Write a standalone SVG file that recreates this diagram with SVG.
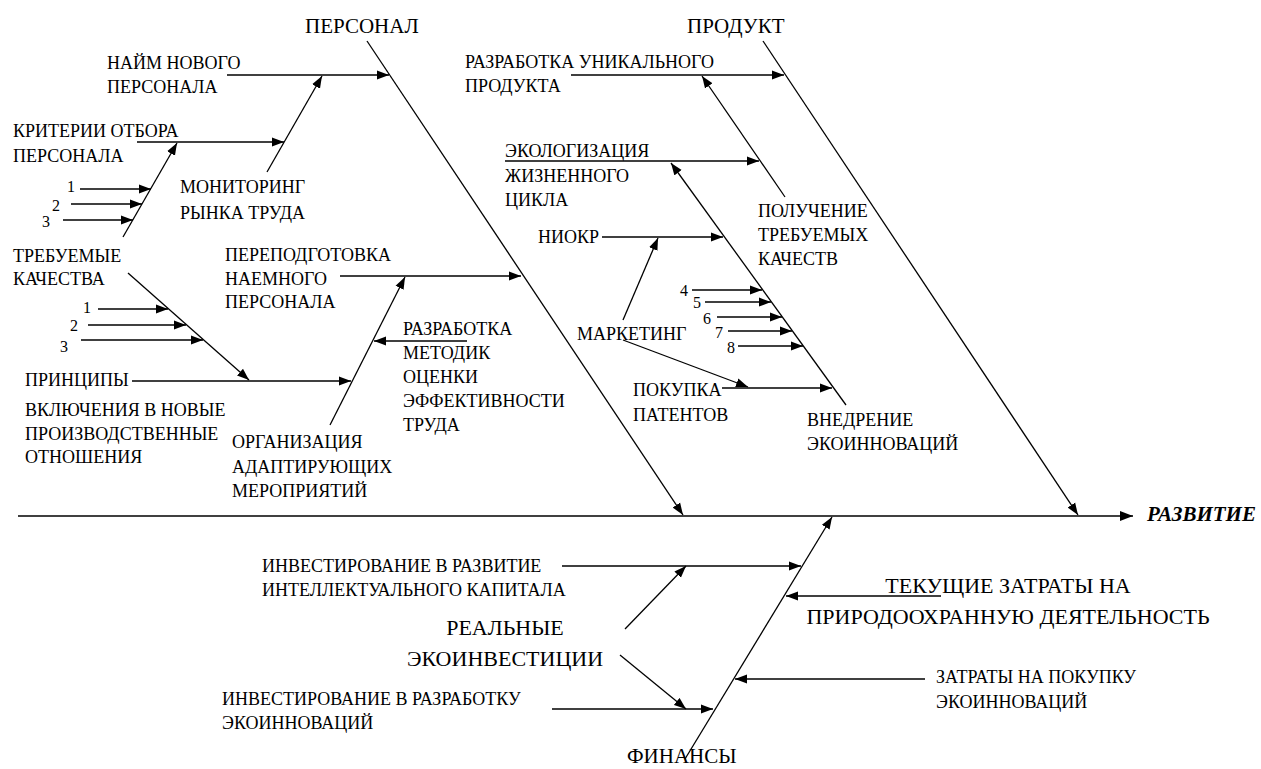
<svg xmlns="http://www.w3.org/2000/svg" width="1261" height="769" viewBox="0 0 1261 769">
<defs>
<marker id="ah" markerWidth="13" markerHeight="10" refX="12" refY="5" orient="auto" markerUnits="userSpaceOnUse"><path d="M0,0.5 L12,5 L0,9.5 z" fill="#000"/></marker>
<marker id="ahL" markerWidth="14" markerHeight="11" refX="13" refY="5.5" orient="auto" markerUnits="userSpaceOnUse"><path d="M0,0.5 L13,5.5 L0,10.5 z" fill="#000"/></marker>
</defs>
<style>
text{fill:#000;font-size:18px}
.t{font-size:21px}
.n{font-size:16px}
.b{font-size:22px}
.s{font-size:18px}
.r{font-size:21px;font-weight:bold;font-style:italic}
.c{text-anchor:middle}
line{stroke:#000;stroke-width:1.3;fill:none}
.a{marker-end:url(#ah)}
</style>
<rect width="1261" height="769" fill="#fff"/>
<g id="connectors">
<line x1="18" y1="516" x2="1133" y2="516" style="marker-end:url(#ahL)"/>
<line class="a" x1="367" y1="41" x2="683" y2="515"/>
<line class="a" x1="227" y1="75" x2="389" y2="75"/>
<line class="a" x1="267" y1="172" x2="322" y2="76"/>
<line class="a" x1="137" y1="142" x2="284" y2="142"/>
<line class="a" x1="123" y1="237" x2="177" y2="143"/>
<line class="a" x1="80" y1="189" x2="151" y2="189"/>
<line class="a" x1="71" y1="204" x2="142" y2="204"/>
<line class="a" x1="63" y1="220" x2="133" y2="220"/>
<line class="a" x1="128" y1="273" x2="249" y2="380"/>
<line class="a" x1="98" y1="309" x2="168" y2="309"/>
<line class="a" x1="88" y1="325" x2="186" y2="325"/>
<line class="a" x1="81" y1="340" x2="203" y2="340"/>
<line class="a" x1="132" y1="381" x2="351" y2="381"/>
<line class="a" x1="330" y1="425" x2="405" y2="277"/>
<line class="a" x1="340" y1="276" x2="521" y2="276"/>
<line class="a" x1="467" y1="341" x2="374" y2="341"/>
<line class="a" x1="763" y1="41" x2="1078" y2="515"/>
<line class="a" x1="571" y1="75" x2="784" y2="75"/>
<line class="a" x1="785" y1="197" x2="702" y2="76"/>
<line class="a" x1="505" y1="161" x2="759" y2="161"/>
<line class="a" x1="846" y1="405" x2="671" y2="163"/>
<line class="a" x1="602" y1="237" x2="723" y2="237"/>
<line class="a" x1="722" y1="388" x2="832" y2="388"/>
<line class="a" x1="692" y1="290" x2="762" y2="290"/>
<line class="a" x1="705" y1="302" x2="771" y2="302"/>
<line class="a" x1="717" y1="317" x2="782" y2="317"/>
<line class="a" x1="728" y1="331" x2="792" y2="331"/>
<line class="a" x1="738" y1="346" x2="803" y2="346"/>
<line class="a" x1="623" y1="320" x2="658" y2="238"/>
<line class="a" x1="623" y1="340" x2="748" y2="387"/>
<line class="a" x1="685" y1="759" x2="832" y2="517"/>
<line class="a" x1="562" y1="566" x2="801" y2="566"/>
<line class="a" x1="941" y1="596" x2="786" y2="596"/>
<line class="a" x1="925" y1="679" x2="735" y2="679"/>
<line class="a" x1="552" y1="709" x2="713" y2="709"/>
<line class="a" x1="625" y1="629" x2="686" y2="566"/>
<line class="a" x1="620" y1="655" x2="686" y2="709"/>
</g>
<g id="labels" font-family="'Liberation Serif', 'DejaVu Serif', serif">
<g id="personal"><text class="t" x="305" y="33">ПЕРСОНАЛ</text></g>
<g id="naim"><text x="107" y="69">НАЙМ НОВОГО</text><text x="107" y="93">ПЕРСОНАЛА</text></g>
<g id="kriterii"><text x="13" y="137">КРИТЕРИИ ОТБОРА</text><text x="13" y="162">ПЕРСОНАЛА</text></g>
<g id="monitoring"><text x="180" y="193">МОНИТОРИНГ</text><text x="180" y="219">РЫНКА ТРУДА</text></g>
<g id="nums1"><text class="n" x="67" y="192">1</text><text class="n" x="52" y="211">2</text><text class="n" x="42" y="227">3</text></g>
<g id="treb"><text x="13" y="262">ТРЕБУЕМЫЕ</text><text x="13" y="285">КАЧЕСТВА</text></g>
<g id="nums2"><text class="n" x="83" y="313">1</text><text class="n" x="70" y="331">2</text><text class="n" x="60" y="352">3</text></g>
<g id="principy"><text x="25" y="386">ПРИНЦИПЫ</text><text x="25" y="416">ВКЛЮЧЕНИЯ В НОВЫЕ</text><text x="25" y="440">ПРОИЗВОДСТВЕННЫЕ</text><text x="25" y="463">ОТНОШЕНИЯ</text></g>
<g id="perepodg"><text x="225" y="261">ПЕРЕПОДГОТОВКА</text><text x="225" y="285">НАЕМНОГО</text><text x="225" y="308">ПЕРСОНАЛА</text></g>
<g id="organiz"><text x="232" y="448">ОРГАНИЗАЦИЯ</text><text x="232" y="473">АДАПТИРУЮЩИХ</text><text x="232" y="497">МЕРОПРИЯТИЙ</text></g>
<g id="metodik"><text x="403" y="335">РАЗРАБОТКА</text><text x="403" y="359">МЕТОДИК</text><text x="403" y="383">ОЦЕНКИ</text><text x="403" y="407">ЭФФЕКТИВНОСТИ</text><text x="403" y="431">ТРУДА</text></g>
<g id="produkt"><text class="t" x="687" y="33">ПРОДУКТ</text></g>
<g id="unik"><text x="465" y="68">РАЗРАБОТКА УНИКАЛЬНОГО</text><text x="465" y="92">ПРОДУКТА</text></g>
<g id="ekolog"><text x="505" y="157">ЭКОЛОГИЗАЦИЯ</text><text x="505" y="182">ЖИЗНЕННОГО</text><text x="505" y="206">ЦИКЛА</text></g>
<g id="poluch"><text x="758" y="217">ПОЛУЧЕНИЕ</text><text x="758" y="241">ТРЕБУЕМЫХ</text><text x="758" y="265">КАЧЕСТВ</text></g>
<g id="niokr"><text x="538" y="243">НИОКР</text></g>
<g id="marketing"><text x="577" y="340">МАРКЕТИНГ</text></g>
<g id="pokupka"><text x="633" y="396">ПОКУПКА</text><text x="633" y="421">ПАТЕНТОВ</text></g>
<g id="nums3"><text class="n" x="680" y="296">4</text><text class="n" x="693" y="308">5</text><text class="n" x="703" y="324">6</text><text class="n" x="715" y="338">7</text><text class="n" x="727" y="353">8</text></g>
<g id="vnedr"><text x="807" y="426">ВНЕДРЕНИЕ</text><text x="807" y="450">ЭКОИННОВАЦИЙ</text></g>
<g id="razvitie"><text class="r" x="1147" y="521">РАЗВИТИЕ</text></g>
<g id="invest1"><text x="262" y="572">ИНВЕСТИРОВАНИЕ В РАЗВИТИЕ</text><text x="262" y="596">ИНТЕЛЛЕКТУАЛЬНОГО КАПИТАЛА</text></g>
<g id="real"><text class="b c" x="505" y="635">РЕАЛЬНЫЕ</text><text class="b c" x="505" y="666">ЭКОИНВЕСТИЦИИ</text></g>
<g id="invest2"><text x="222" y="705">ИНВЕСТИРОВАНИЕ В РАЗРАБОТКУ</text><text x="222" y="729">ЭКОИННОВАЦИЙ</text></g>
<g id="tekush"><text class="b c" x="1008" y="593">ТЕКУЩИЕ ЗАТРАТЫ НА</text><text class="b c" x="1008" y="624">ПРИРОДООХРАННУЮ ДЕЯТЕЛЬНОСТЬ</text></g>
<g id="zatraty"><text class="s" x="936" y="683">ЗАТРАТЫ НА ПОКУПКУ</text><text class="s" x="936" y="708">ЭКОИННОВАЦИЙ</text></g>
<g id="finansy"><text class="t" x="627" y="763">ФИНАНСЫ</text></g>
</g>
</svg>
